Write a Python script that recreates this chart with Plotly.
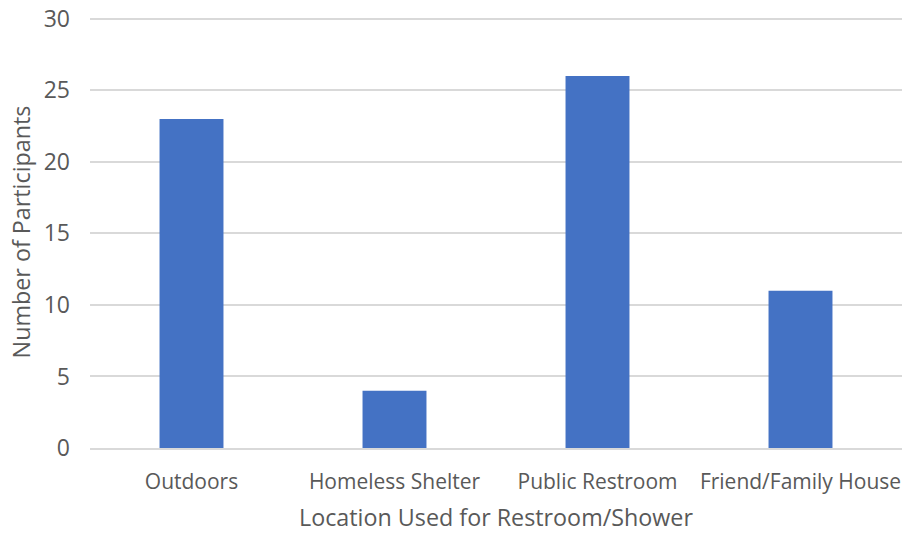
import plotly.graph_objects as go

categories = ["Outdoors", "Homeless Shelter", "Public Restroom", "Friend/Family House"]
participants = [23, 4, 26, 11]
y_ticks = [0, 5, 10, 15, 20, 25, 30]

fig = go.Figure(go.Bar(x=categories, y=participants, marker_color="#4472C4",
                       marker_line_width=0))

font_color = "#595959"
fig.update_layout(
    width=903, height=533,
    margin=dict(l=90, r=1, t=16, b=85),
    paper_bgcolor="white", plot_bgcolor="white",
    bargap=0.685,
    font=dict(family="Open Sans, sans-serif", color=font_color),
    showlegend=False,
)
fig.update_xaxes(
    title=dict(text="Location Used for Restroom/Shower", font=dict(size=23.3, color=font_color), standoff=23),
    tickfont=dict(size=21, color=font_color),
    showline=True, linecolor="#d9d9d9", linewidth=2,
    ticks="", ticklabelstandoff=14, automargin=False, ticklabeloverflow="allow",
)
fig.update_yaxes(
    title=dict(text="Number of Participants", font=dict(size=23.3, color=font_color), standoff=6),
    tickfont=dict(size=23, color=font_color),
    range=[0, 30.2], tickvals=y_ticks,
    showgrid=True, gridcolor="#d9d9d9", gridwidth=2,
    zeroline=False, ticks="", ticklabelstandoff=19, automargin=False, ticklabeloverflow="allow",
)

fig.write_html("out.html", config={"displayModeBar": False},
               post_script="document.body.style.margin='0';document.body.style.overflow='hidden';")
